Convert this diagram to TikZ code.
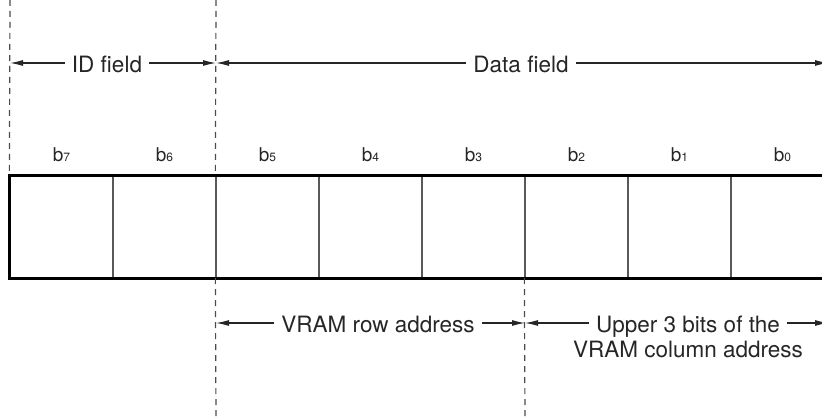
\documentclass[tikz,border=0pt]{standalone}
\usepackage{fontspec}
\setmainfont{TeX Gyre Heros}
\usetikzlibrary{arrows.meta,positioning}

\begin{document}
\begin{tikzpicture}[x=1pt, y=-1pt,
  cell/.style={rectangle, draw=black!65, line width=1.3pt,
               minimum width=103pt, minimum height=101pt, inner sep=0pt},
  regbox/.style={draw=black, line width=2.8pt},
  bitlbl/.style={anchor=base, inner sep=0pt,
                 font=\fontsize{19}{19}\selectfont, text=black!85},
  fieldlbl/.style={inner xsep=7pt, inner ysep=0pt, text height=19pt, text depth=0pt,
                   font=\fontsize{22.5}{26}\selectfont, text=black!85},
  guide/.style={draw=black!70, line width=1.2pt, dash pattern=on 6pt off 5pt},
  farr/.style={-{Latex[length=13pt,width=6pt]}, line width=1.1pt, draw=black!85}
]
\useasboundingbox (0,0) rectangle (822,419);

% Register cells and bit numbers
\foreach \i in {7,...,0} {
  \node[cell] (c\i) at ({10+(7-\i)*103+51.5}, 227) {};
  \node[bitlbl] (b\i) at ({10+(7-\i)*103+51.5}, 162) {b{\fontsize{12}{12}\selectfont\i}};
}
\draw[regbox] (c7.north west) rectangle (c0.south east);

% Guide lines
\coordinate (g0)  at (10,0);
\coordinate (g1)  at (216,0);
\coordinate (g1b) at (216,419);
\coordinate (g2b) at (525,419);
\draw[guide] (g0) -- (c7.north west);
\draw[guide] (g1) -- (c5.north west);
\draw[guide] (c5.south west) -- (g1b);
\draw[guide] (c2.south west) -- (g2b);

% Arrow ends
\coordinate (idL)  at (10,63);
\coordinate (idR)  at (216,63);
\coordinate (datR) at (828,63);
\coordinate (rowL) at (216,323);
\coordinate (rowR) at (525,323);
\coordinate (upR)  at (828,323);

% Field labels
\node[fieldlbl] (idf)  at (107,63)  {ID field};
\node[fieldlbl] (datf) at (521,63)  {Data field};
\node[fieldlbl] (rowf) at (378,323) {VRAM row address};
\node[fieldlbl] (upA)  at (688,323) {Upper 3 bits of the};
\node[fieldlbl] (upB)  at (688,348) {VRAM column address};

% Arrows
\draw[farr] (idf.west)  -- (idL);
\draw[farr] (idf.east)  -- (idR);
\draw[farr] (datf.west) -- (idR);
\draw[farr] (datf.east) -- (datR);
\draw[farr] (rowf.west) -- (rowL);
\draw[farr] (rowf.east) -- (rowR);
\draw[farr] (upA.west)  -- (rowR);
\draw[farr] (upA.east)  -- (upR);
\end{tikzpicture}
\end{document}
